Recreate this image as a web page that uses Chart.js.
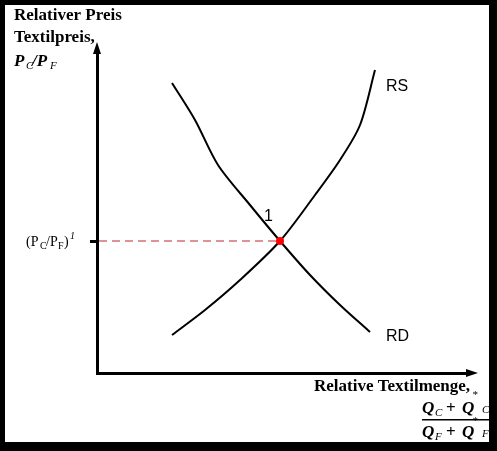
<!DOCTYPE html>
<html>
<head>
<meta charset="utf-8">
<script src="https://cdn.jsdelivr.net/npm/chart.js@4"></script>
<style>
  html, body { margin: 0; padding: 0; background: #fff; }
  #wrap { width: 497px; height: 451px; }
</style>
</head>
<body>
<div id="wrap"><canvas id="chart"></canvas></div>
<script>
// curve points (relative quantity, relative price)
const rdX = [75, 98, 121, 153, 183, 213, 243, 273];
const rdY = [290, 253, 208, 168, 132, 98, 68, 41];
const rsX = [75, 108, 143, 183, 218, 243, 263, 278];
const rsY = [38, 63, 93, 132, 178, 213, 248, 303];
const eqX = 183;
const eqY = 132;

const toPts = (xs, ys) => xs.map((x, i) => ({ x: x, y: ys[i] }));

const decor = {
  id: 'decor',
  afterDraw(chart) {
    const c = chart.ctx;
    const xs = chart.scales.x, ys = chart.scales.y;
    const a = chart.chartArea;
    c.save();
    // frame
    c.fillStyle = '#000';
    c.fillRect(0, 0, 497, 5);
    c.fillRect(0, 0, 5, 451);
    c.fillRect(489, 0, 8, 451);
    c.fillRect(0, 442, 497, 9);
    // arrows
    c.beginPath();
    c.moveTo(a.left, a.top - 8); c.lineTo(a.left - 4, a.top + 4); c.lineTo(a.left + 4, a.top + 4);
    c.fill();
    c.beginPath();
    c.moveTo(a.right + 8, a.bottom); c.lineTo(a.right - 4, a.bottom - 4); c.lineTo(a.right - 4, a.bottom + 4);
    c.fill();
    // tick at equilibrium price
    const py = ys.getPixelForValue(eqY);
    c.fillRect(a.left - 7, py - 1, 7, 3);
    // dashed line
    c.strokeStyle = '#c0262b';
    c.lineWidth = 1;
    c.setLineDash([8, 5]);
    c.beginPath();
    c.moveTo(a.left + 2, py); c.lineTo(xs.getPixelForValue(eqX), py);
    c.stroke();
    c.setLineDash([]);
    // red point on top
    c.fillStyle = '#f00';
    c.beginPath();
    c.arc(xs.getPixelForValue(eqX), py, 4, 0, Math.PI * 2);
    c.fill();
    // texts
    c.fillStyle = '#000';
    c.font = 'bold 17px "Liberation Serif"';
    c.textBaseline = 'alphabetic';
    c.fillText('Relativer Preis', 14, 20);
    c.fillText('Textilpreis,', 14, 42);
    c.font = 'bold italic 17px "Liberation Serif"';
    c.fillText('P', 14, 66);
    c.font = 'italic 11px "Liberation Serif"';
    c.fillText('C', 26, 69);
    c.font = 'bold italic 17px "Liberation Serif"';
    c.fillText('/P', 32, 66);
    c.font = 'italic 11px "Liberation Serif"';
    c.fillText('F', 50, 69);
    c.font = '14px "Liberation Serif"';
    c.fillText('(P', 26, 246);
    c.font = '10px "Liberation Serif"';
    c.fillText('C', 40, 249);
    c.font = '14px "Liberation Serif"';
    c.fillText('/P', 46, 246);
    c.font = '10px "Liberation Serif"';
    c.fillText('F', 58, 249);
    c.font = '14px "Liberation Serif"';
    c.fillText(')', 64, 246);
    c.font = 'italic 10px "Liberation Serif"';
    c.fillText('1', 70, 239);
    c.font = '16px "Liberation Sans"';
    c.fillText('1', 264, 221);
    c.fillText('RS', 386, 91);
    c.fillText('RD', 386, 341);
    c.font = 'bold 17px "Liberation Serif"';
    c.fillText('Relative Textilmenge,', 314, 391);
    c.font = 'bold italic 17px "Liberation Serif"';
    c.fillText('Q', 422, 413);
    c.fillText('Q', 422, 437);
    c.fillText('Q', 462, 413);
    c.fillText('Q', 462, 437);
    c.font = 'bold 17px "Liberation Serif"';
    c.fillText('+', 446, 413);
    c.fillText('+', 446, 437);
    c.font = 'italic 11px "Liberation Serif"';
    c.fillText('C', 435, 416);
    c.fillText('F', 435, 440);
    c.fillText('C', 482, 413);
    c.fillText('F', 482, 437);
    c.fillText('*', 472, 398);
    c.fillText('*', 472, 424);
    c.fillRect(422, 419, 67, 1.5);
    c.restore();
  }
};

new Chart(document.getElementById('chart'), {
  type: 'scatter',
  data: {
    datasets: [
      { data: toPts(rdX, rdY), showLine: true, borderColor: '#000', borderWidth: 2, pointRadius: 0, tension: 0.3 },
      { data: toPts(rsX, rsY), showLine: true, borderColor: '#000', borderWidth: 2, pointRadius: 0, tension: 0.3 }
    ]
  },
  options: {
    responsive: true,
    maintainAspectRatio: false,
    animation: false,
    layout: { padding: { left: 89, top: 50, right: 27, bottom: 70 } },
    plugins: { legend: { display: false }, tooltip: { enabled: false } },
    scales: {
      x: { min: 0, max: 373, ticks: { display: false }, grid: { display: false }, border: { color: '#000', width: 3 } },
      y: { min: 0, max: 323, ticks: { display: false }, grid: { display: false }, border: { color: '#000', width: 3 } }
    }
  },
  plugins: [decor]
});
</script>
</body>
</html>
